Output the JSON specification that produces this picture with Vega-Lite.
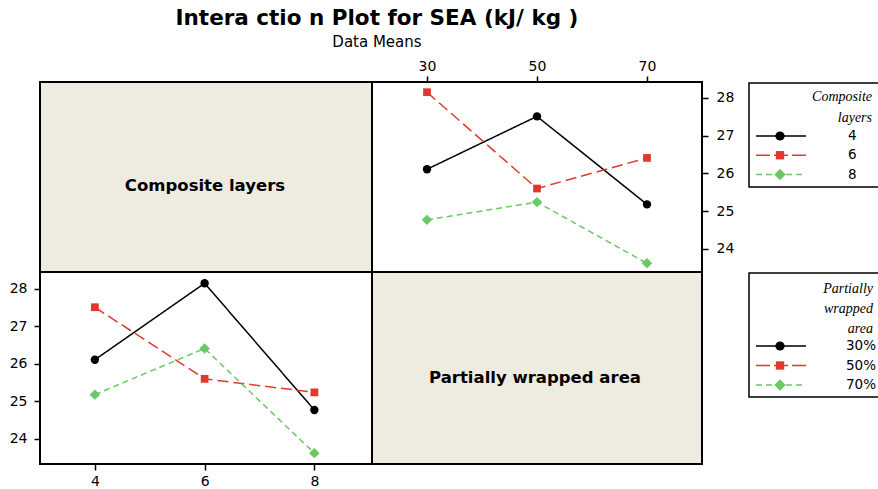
{
  "$schema": "https://vega.github.io/schema/vega-lite/v6.json",
  "padding": {"left": 8, "top": 7, "right": 0, "bottom": 0},
  "background": "white",
  "title": {
    "text": "Intera ctio n Plot for SEA (kJ/ kg )",
    "subtitle": "Data Means",
    "anchor": "middle",
    "font": "DejaVu Sans",
    "fontSize": 21.5,
    "fontWeight": "bold",
    "color": "black",
    "subtitleFont": "DejaVu Sans",
    "subtitleFontSize": 15,
    "subtitleColor": "black",
    "subtitlePadding": 6,
    "offset": 8,
    "dx": -67
  },
  "datasets": {
    "means": [
      {"layers": 4, "area": 30, "sea": 26.11},
      {"layers": 6, "area": 30, "sea": 28.15},
      {"layers": 8, "area": 30, "sea": 24.77},
      {"layers": 4, "area": 50, "sea": 27.51},
      {"layers": 6, "area": 50, "sea": 25.60},
      {"layers": 8, "area": 50, "sea": 25.24},
      {"layers": 4, "area": 70, "sea": 25.18},
      {"layers": 6, "area": 70, "sea": 26.41},
      {"layers": 8, "area": 70, "sea": 23.62}
    ],
    "layerKeys": [
      {"layers": 4, "label": "4"},
      {"layers": 6, "label": "6"},
      {"layers": 8, "label": "8"}
    ],
    "areaKeys": [
      {"area": 30, "label": "30%"},
      {"area": 50, "label": "50%"},
      {"area": 70, "label": "70%"}
    ]
  },
  "columns": 3,
  "spacing": 0,
  "bounds": "flush",
  "concat": [
    {
      "width": 332,
      "height": 190,
      "view": {"fill": "#EEEBE1", "stroke": "black", "strokeWidth": 2},
      "data": {"values": [{}]},
      "mark": {
        "type": "text",
        "text": "Composite layers",
        "font": "DejaVu Sans",
        "fontSize": 16.5,
        "fontWeight": "bold",
        "color": "black",
        "align": "center",
        "baseline": "middle",
        "x": 165,
        "y": 104
      }
    },
    {
      "width": 330,
      "height": 190,
      "view": {"fill": "white", "stroke": "black", "strokeWidth": 2},
      "data": {"name": "means"},
      "encoding": {
        "x": {
          "field": "area",
          "type": "quantitative",
          "scale": {"domain": [20, 80], "nice": false, "zero": false},
          "axis": {"orient": "top", "values": [30, 50, 70], "title": null, "labelPadding": 3}
        },
        "y": {
          "field": "sea",
          "type": "quantitative",
          "scale": {"domain": [23.39, 28.42], "nice": false, "zero": false},
          "axis": {"orient": "right", "values": [24, 25, 26, 27, 28], "title": null, "labelPadding": 8}
        },
        "color": {
          "field": "layers",
          "type": "nominal",
          "scale": {"domain": [4, 6, 8], "range": ["#000000", "#E2382B", "#6CC864"]},
          "legend": null
        }
      },
      "layer": [
        {
          "mark": {"type": "line", "strokeWidth": 1.5},
          "encoding": {
            "strokeDash": {
              "field": "layers",
              "type": "nominal",
              "scale": {"domain": [4, 6, 8], "range": [[1, 0], [11, 5], [6, 4]]},
              "legend": null
            }
          }
        },
        {
          "mark": {"type": "point", "filled": true, "opacity": 1},
          "encoding": {
            "shape": {
              "field": "layers",
              "type": "nominal",
              "scale": {"domain": [4, 6, 8], "range": ["circle", "square", "diamond"]},
              "legend": null
            },
            "size": {
              "field": "layers",
              "type": "nominal",
              "scale": {"type": "ordinal", "domain": [4, 6, 8], "range": [70, 60, 110]},
              "legend": null
            }
          }
        }
      ]
    },
    {
      "width": 176,
      "height": 190,
      "view": {"stroke": null},
      "layer": [
        {
          "data": {"values": [{}]},
          "mark": {"type": "rect", "x": 47, "x2": 177, "y": 1, "y2": 105, "fill": "white", "stroke": "black", "strokeWidth": 1.5}
        },
        {
          "data": {"values": [{}]},
          "mark": {
            "type": "text",
            "text": ["Composite", "layers"],
            "font": "Liberation Serif",
            "fontStyle": "italic",
            "fontSize": 14,
            "lineHeight": 21,
            "color": "black",
            "align": "right",
            "baseline": "middle",
            "x": 170,
            "y": 15
          }
        },
        {
          "data": {"name": "layerKeys"},
          "encoding": {
            "y": {
              "field": "layers",
              "type": "ordinal",
              "scale": {"type": "point", "domain": [4, 6, 8], "range": [54, 92.5], "padding": 0},
              "axis": null
            },
            "color": {
              "field": "layers",
              "type": "nominal",
              "scale": {"domain": [4, 6, 8], "range": ["#000000", "#E2382B", "#6CC864"]},
              "legend": null
            }
          },
          "layer": [
            {
              "mark": {"type": "rule", "x": 54, "x2": 104, "strokeWidth": 1.5},
              "encoding": {
                "strokeDash": {
                  "field": "layers",
                  "type": "nominal",
                  "scale": {"domain": [4, 6, 8], "range": [[1, 0], [14, 4], [6, 4]]},
                  "legend": null
                }
              }
            },
            {
              "mark": {"type": "point", "filled": true, "opacity": 1, "x": 78},
              "encoding": {
                "shape": {
                  "field": "layers",
                  "type": "nominal",
                  "scale": {"domain": [4, 6, 8], "range": ["circle", "square", "diamond"]},
                  "legend": null
                },
                "size": {
                  "field": "layers",
                  "type": "nominal",
                  "scale": {"type": "ordinal", "domain": [4, 6, 8], "range": [85, 70, 130]},
                  "legend": null
                }
              }
            },
            {
              "mark": {"type": "text", "x": 146, "align": "left", "baseline": "middle", "font": "DejaVu Sans", "fontSize": 13.5, "color": "black"},
              "encoding": {
                "text": {"field": "label", "type": "nominal"},
                "color": {"value": "black"}
              }
            }
          ]
        }
      ]
    },
    {
      "width": 332,
      "height": 192,
      "view": {"fill": "white", "stroke": "black", "strokeWidth": 2},
      "data": {"name": "means"},
      "encoding": {
        "x": {
          "field": "layers",
          "type": "quantitative",
          "scale": {"domain": [3, 9.05], "nice": false, "zero": false},
          "axis": {"orient": "bottom", "values": [4, 6, 8], "title": null, "labelPadding": 4}
        },
        "y": {
          "field": "sea",
          "type": "quantitative",
          "scale": {"domain": [23.33, 28.45], "nice": false, "zero": false},
          "axis": {"orient": "left", "values": [24, 25, 26, 27, 28], "title": null, "labelPadding": 7}
        },
        "color": {
          "field": "area",
          "type": "nominal",
          "scale": {"domain": [30, 50, 70], "range": ["#000000", "#E2382B", "#6CC864"]},
          "legend": null
        }
      },
      "layer": [
        {
          "mark": {"type": "line", "strokeWidth": 1.5},
          "encoding": {
            "strokeDash": {
              "field": "area",
              "type": "nominal",
              "scale": {"domain": [30, 50, 70], "range": [[1, 0], [11, 5], [6, 4]]},
              "legend": null
            }
          }
        },
        {
          "mark": {"type": "point", "filled": true, "opacity": 1},
          "encoding": {
            "shape": {
              "field": "area",
              "type": "nominal",
              "scale": {"domain": [30, 50, 70], "range": ["circle", "square", "diamond"]},
              "legend": null
            },
            "size": {
              "field": "area",
              "type": "nominal",
              "scale": {"type": "ordinal", "domain": [30, 50, 70], "range": [70, 60, 110]},
              "legend": null
            }
          }
        }
      ]
    },
    {
      "width": 330,
      "height": 192,
      "view": {"fill": "#EEEBE1", "stroke": "black", "strokeWidth": 2},
      "data": {"values": [{}]},
      "mark": {
        "type": "text",
        "text": "Partially wrapped area",
        "font": "DejaVu Sans",
        "fontSize": 16.5,
        "fontWeight": "bold",
        "color": "black",
        "align": "center",
        "baseline": "middle",
        "x": 163,
        "y": 106
      }
    },
    {
      "width": 176,
      "height": 192,
      "view": {"stroke": null},
      "layer": [
        {
          "data": {"values": [{}]},
          "mark": {"type": "rect", "x": 47, "x2": 177, "y": 1, "y2": 125, "fill": "white", "stroke": "black", "strokeWidth": 1.5}
        },
        {
          "data": {"values": [{}]},
          "mark": {
            "type": "text",
            "text": ["Partially", "wrapped", "area"],
            "font": "Liberation Serif",
            "fontStyle": "italic",
            "fontSize": 14,
            "lineHeight": 20,
            "color": "black",
            "align": "right",
            "baseline": "middle",
            "x": 171,
            "y": 17
          }
        },
        {
          "data": {"name": "areaKeys"},
          "encoding": {
            "y": {
              "field": "area",
              "type": "ordinal",
              "scale": {"type": "point", "domain": [30, 50, 70], "range": [74, 113], "padding": 0},
              "axis": null
            },
            "color": {
              "field": "area",
              "type": "nominal",
              "scale": {"domain": [30, 50, 70], "range": ["#000000", "#E2382B", "#6CC864"]},
              "legend": null
            }
          },
          "layer": [
            {
              "mark": {"type": "rule", "x": 54, "x2": 104, "strokeWidth": 1.5},
              "encoding": {
                "strokeDash": {
                  "field": "area",
                  "type": "nominal",
                  "scale": {"domain": [30, 50, 70], "range": [[1, 0], [14, 4], [6, 4]]},
                  "legend": null
                }
              }
            },
            {
              "mark": {"type": "point", "filled": true, "opacity": 1, "x": 78},
              "encoding": {
                "shape": {
                  "field": "area",
                  "type": "nominal",
                  "scale": {"domain": [30, 50, 70], "range": ["circle", "square", "diamond"]},
                  "legend": null
                },
                "size": {
                  "field": "area",
                  "type": "nominal",
                  "scale": {"type": "ordinal", "domain": [30, 50, 70], "range": [85, 70, 130]},
                  "legend": null
                }
              }
            },
            {
              "mark": {"type": "text", "x": 144, "align": "left", "baseline": "middle", "font": "DejaVu Sans", "fontSize": 13.5, "color": "black"},
              "encoding": {
                "text": {"field": "label", "type": "nominal"},
                "color": {"value": "black"}
              }
            }
          ]
        }
      ]
    }
  ],
  "resolve": {"scale": {"color": "independent", "shape": "independent", "size": "independent", "strokeDash": "independent"}},
  "config": {
    "font": "DejaVu Sans",
    "axis": {
      "grid": false,
      "domain": false,
      "ticks": true,
      "tickSize": 6,
      "tickWidth": 1.5,
      "tickColor": "black",
      "labelFont": "DejaVu Sans",
      "labelFontSize": 14,
      "labelColor": "black"
    }
  }
}
